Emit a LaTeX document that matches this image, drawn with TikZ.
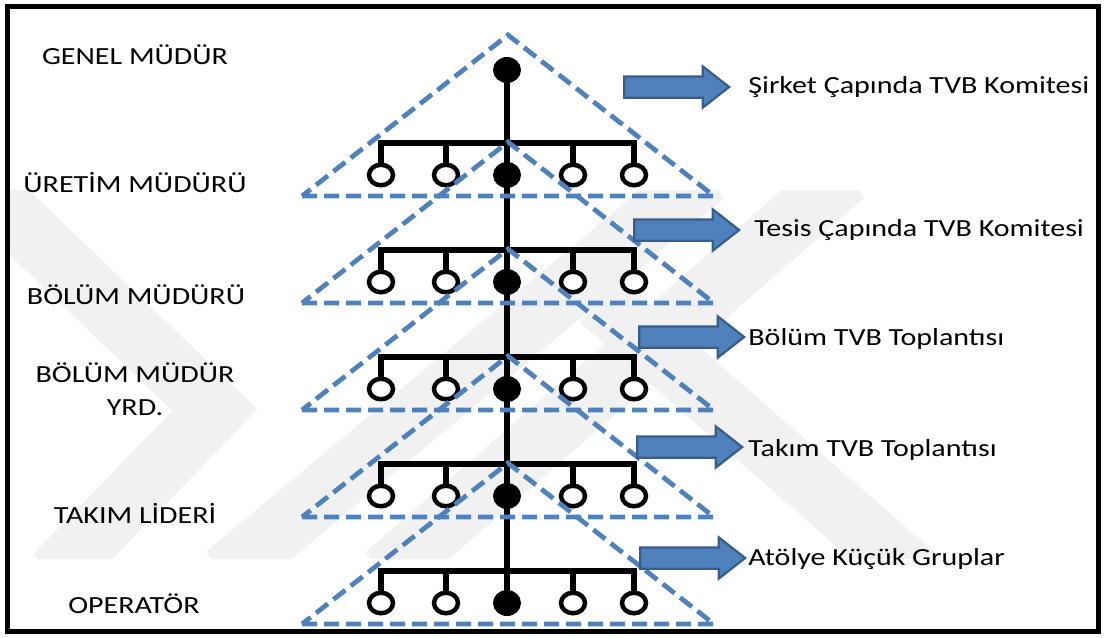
\documentclass[tikz,border=0pt]{standalone}
\usepackage{fontspec}
\setmainfont{Carlito}[FakeStretch=1.22]
\usetikzlibrary{shapes.geometric,shapes.arrows}

\definecolor{tvbblue}{RGB}{79,129,189}
\definecolor{tvbedge}{RGB}{56,93,138}
\definecolor{wmgray}{RGB}{241,241,241}

\tikzset{
    pyramid/.style={tvbblue, line width=0.95mm, dash pattern=on 3mm off 1.4mm},
    branch/.style={line width=1.15mm, line join=miter},
    member/.style={ellipse, draw, fill=white, line width=0.9mm, minimum width=4.8mm, minimum height=4.1mm, inner sep=0pt},
    lead/.style={ellipse, fill=black, minimum width=5.6mm, minimum height=5.2mm, inner sep=0pt},
    tvbarrow/.style={single arrow, draw=tvbedge, fill=tvbblue, line width=0.45mm, anchor=west,
        minimum height=21mm, inner xsep=0pt, inner ysep=1.9mm,
        single arrow head extend=2mm, single arrow tip angle=76},
    levellabel/.style={font=\fontsize{14}{18.5}\selectfont, align=center},
    tvblabel/.style={font=\fontsize{14}{17}\selectfont, anchor=west, inner sep=0pt},
    wmark/.style={wmgray, line width=12mm}
}

\begin{document}
\begin{tikzpicture}[x=0.2mm, y=-0.2mm]
    \useasboundingbox (0,0) rectangle (1104,637);

    % =================================================================
    % ARKA PLAN: SOLUK FİLİGRAN
    % =================================================================
    \begin{scope}
        \clip (7,190) rectangle (1098,558);
        \draw[wmark] (-20,185) -- (215,410) -- (55,575);
        \draw[wmark] (225,575) -- (705,175);
        \draw[wmark] (385,575) -- (845,175);
        \draw[wmark] (600,300) -- (915,575);
    \end{scope}

    % =================================================================
    % ORGANİZASYON AĞACI
    % =================================================================
    \node[lead] (gm) at (507,70) {};
    \foreach \k/\yb/\yc in {1/143/175, 2/250/282, 3/357/389, 4/464/496, 5/571/603} {
        \node[lead] (m\k) at (507,\yc) {};
        \node[member] (a\k) at (381,\yc) {};
        \node[member] (b\k) at (446,\yc) {};
        \node[member] (c\k) at (573,\yc) {};
        \node[member] (d\k) at (634,\yc) {};
        \coordinate (L\k) at (381,\yb);
        \coordinate (R\k) at (634,\yb);
        % yatay kol ve inişler
        \draw[branch] (a\k.north) -- (L\k) -- (R\k) -- (d\k.north);
        \draw[branch] (b\k.north) -- (b\k |- L\k);
        \draw[branch] (c\k.north) -- (c\k |- L\k);
    }
    % ana gövde
    \draw[branch] (gm) -- (m5);

    % Kesikli üçgenler (her kademe için bir tane)
    \foreach \ys in {196,303,410,517,624}
        \draw[pyramid] (302,\ys) -- (714,\ys) -- (508,\ys-161) -- cycle;

    % =================================================================
    % SOL: KADEMELER
    % =================================================================
    \node[levellabel] (l1) at (135,55) {GENEL MÜDÜR};
    \node[levellabel] (l2) at (135,183) {ÜRETİM MÜDÜRÜ};
    \node[levellabel] (l3) at (136,295) {BÖLÜM MÜDÜRÜ};
    \node[levellabel] (l4) at (135,389) {BÖLÜM MÜDÜR\\YRD.};
    \node[levellabel] (l5) at (135,513) {TAKIM LİDERİ};
    \node[levellabel] (l6) at (134,604) {OPERATÖR};

    % =================================================================
    % SAĞ: OKLAR VE TOPLANTILAR
    % =================================================================
    \node[tvbarrow] (ok1) at (623,87) {};
    \node[tvbarrow] (ok2) at (633,230) {};
    \node[tvbarrow] (ok3) at (638,337) {};
    \node[tvbarrow] (ok4) at (636,447) {};
    \node[tvbarrow] (ok5) at (639,558) {};

    \node[tvblabel] (t1) at (748,87) {Şirket Çapında TVB Komitesi};
    \node[tvblabel] (t2) at (754,230) {Tesis Çapında TVB Komitesi};
    \node[tvblabel] (t3) at (748,339) {Bölüm TVB Toplantısı};
    \node[tvblabel] (t4) at (748,450) {Takım TVB Toplantısı};
    \node[tvblabel] (t5) at (748,559) {Atölye Küçük Gruplar};

    % Çerçeve
    \draw[line width=1mm] (7,6) rectangle (1098,631);

\end{tikzpicture}
\end{document}
